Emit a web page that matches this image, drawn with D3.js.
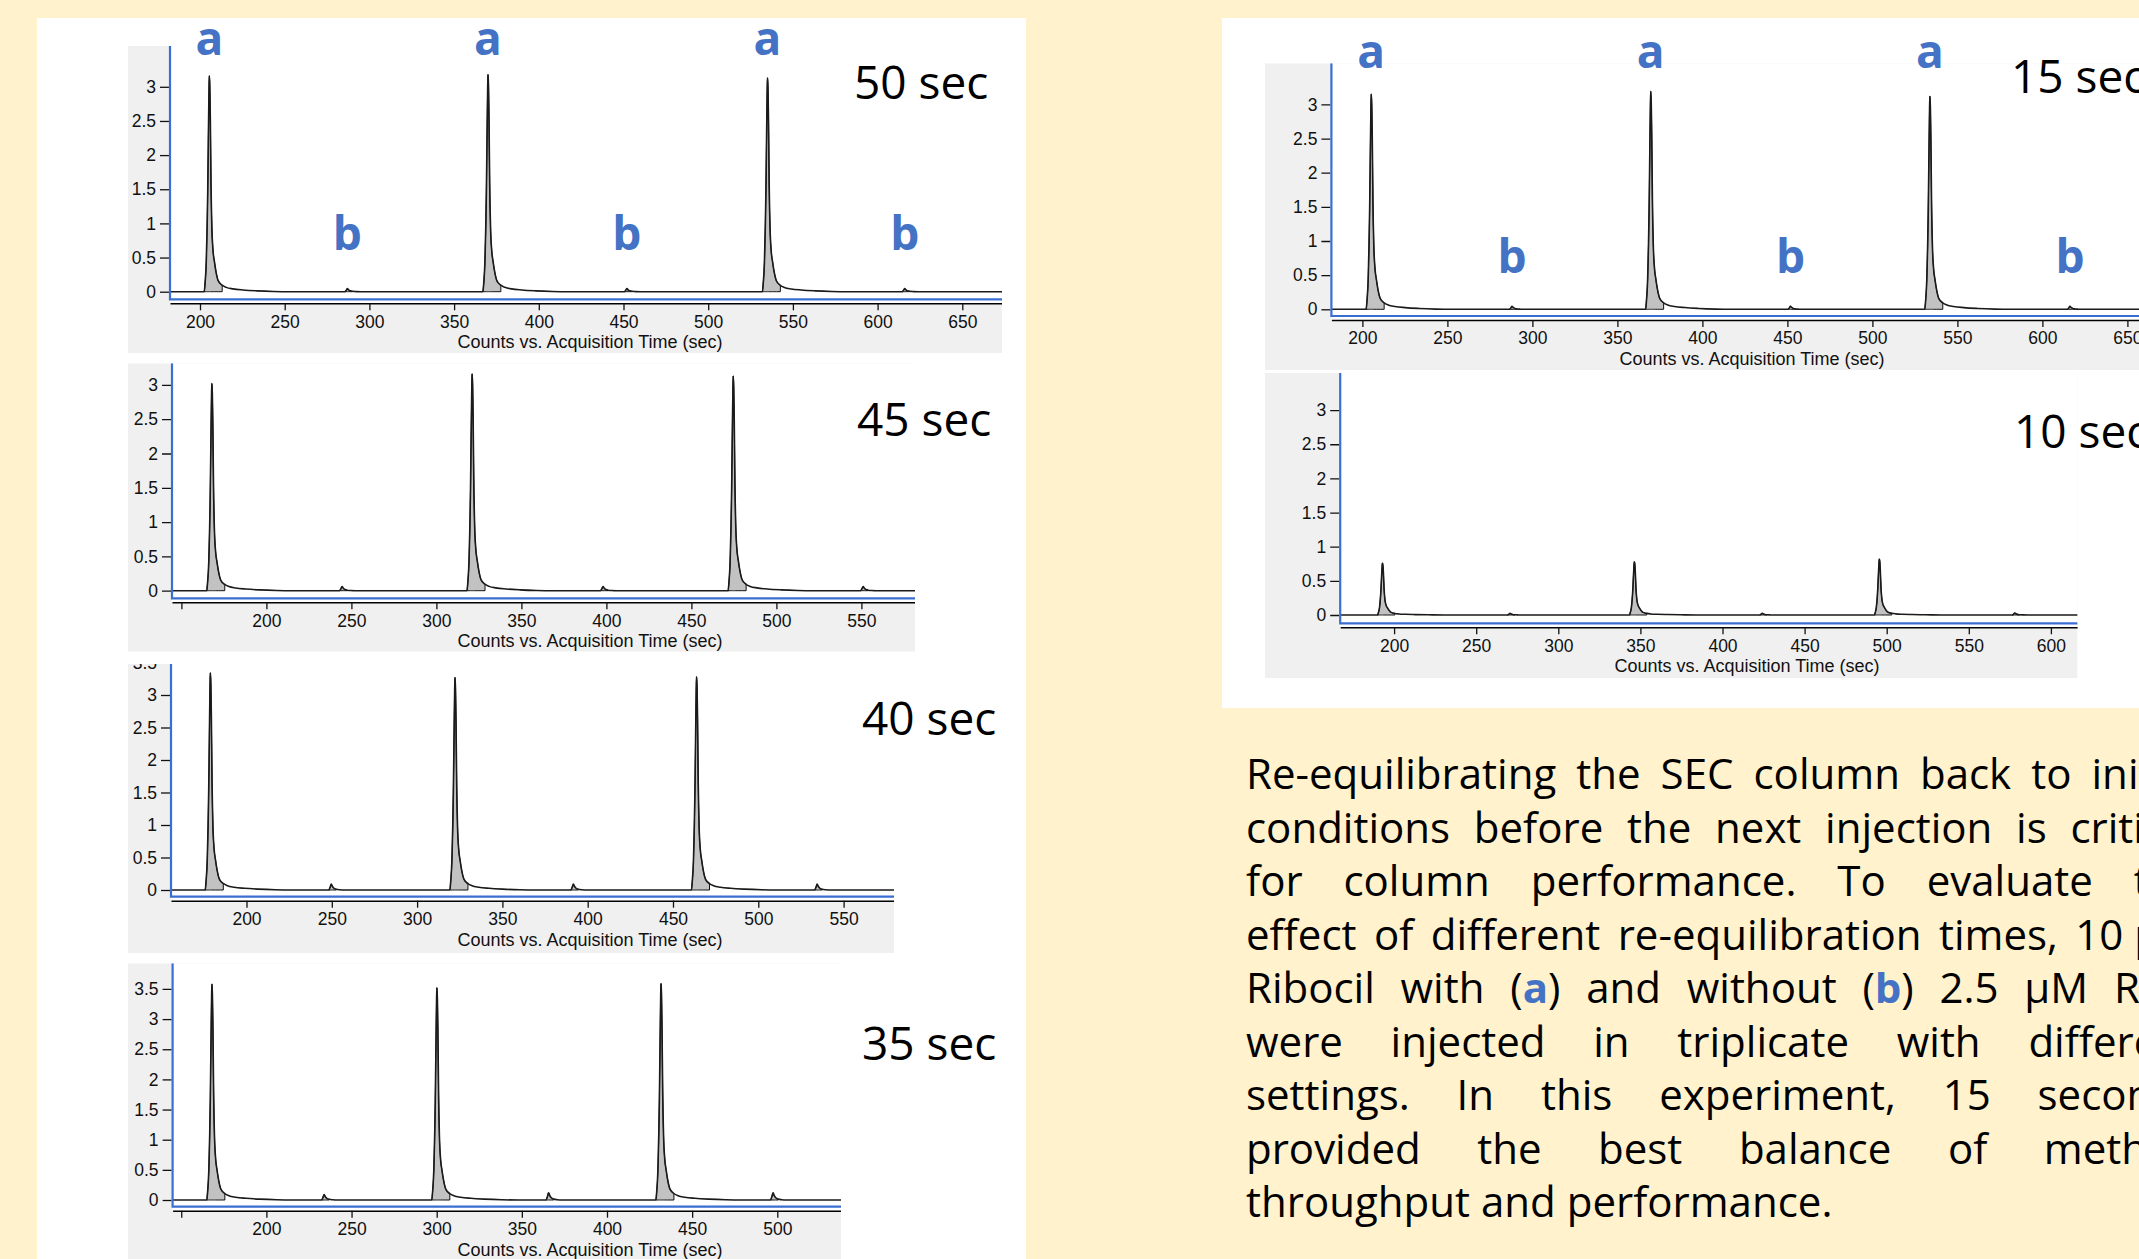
<!DOCTYPE html>
<html lang="en">
<head>
<meta charset="UTF-8">
<title>SEC re-equilibration time chromatograms</title>
<style>
  html, body { margin: 0; padding: 0; background: #fff2cc; overflow: hidden; }
  svg { display: block; }
  .tick text { font-family: "Liberation Sans", Arial, sans-serif; font-size: 17.5px; fill: #111; }
  .tick line { stroke: #111; stroke-width: 1.3; }
  .xtitle { font-family: "Liberation Sans", Arial, sans-serif; font-size: 18px; fill: #111; }
  .seclabel { font-family: "Open Sans", sans-serif; font-size: 46px; fill: #000; }
  .peaklabel { font-family: "Open Sans", sans-serif; font-size: 46px; font-weight: 700; fill: #4472c4; }
</style>
</head>
<body>
<svg id="figure" width="2139" height="1259"></svg>

<script src="https://cdn.jsdelivr.net/npm/d3@7"></script>
<script>
// ---- data ----
const panelNames = ["50 sec", "45 sec", "40 sec", "35 sec", "15 sec", "10 sec"];

// peak a (with RNA) apex times (sec) and heights (counts)
const peakATimes = [
  [205.5, 370.0, 535.0],
  [167.9, 321.0, 474.6],
  [178.8, 322.2, 463.8],
  [168.0, 300.1, 431.7],
  [205.2, 369.6, 533.8],
  [192.9, 346.3, 495.5]
];
const peakAHeights = [
  [3.16, 3.18, 3.13],
  [3.02, 3.16, 3.13],
  [3.34, 3.27, 3.28],
  [3.58, 3.52, 3.59],
  [3.15, 3.19, 3.12],
  [0.76, 0.78, 0.82]
];

// peak b (without RNA), small bumps
const peakBTimes = [
  [287.0, 452.0, 616.0],
  [244.5, 398.0, 551.0],
  [249.7, 391.6, 534.5],
  [233.9, 365.7, 497.5],
  [288.0, 451.8, 616.2],
  [270.6, 424.2, 578.0]
];
const peakBHeights = [
  [0.045, 0.045, 0.045],
  [0.06, 0.06, 0.06],
  [0.09, 0.09, 0.09],
  [0.09, 0.12, 0.12],
  [0.045, 0.045, 0.045],
  [0.025, 0.025, 0.03]
];

const peakProfile = [
  [-3.0, 0], [-2.5, 0.04], [-1.8, 0.14], [-1.3, 0.3], [-0.95, 0.46], [-0.5, 0.75],
  [-0.18, 0.94], [0, 1], [0.3, 0.95], [0.6, 0.8], [1.0, 0.5], [1.5, 0.3], [2.2, 0.19],
  [3.0, 0.14], [4.0, 0.09], [5.3, 0.05], [7.6, 0.03], [10, 0.02], [14, 0.013],
  [20, 0.008], [28, 0.004], [38, 0.001], [48, 0]
];
const bumpProfile = [
  [-1.5, 0], [-0.7, 0.45], [0, 1], [0.7, 0.6], [1.6, 0.3], [3.0, 0.12], [5.0, 0.04], [8.0, 0]
];

const yTickLabels = [
  [0, 0.5, 1, 1.5, 2, 2.5, 3],
  [0, 0.5, 1, 1.5, 2, 2.5, 3],
  [0, 0.5, 1, 1.5, 2, 2.5, 3, 3.5],
  [0, 0.5, 1, 1.5, 2, 2.5, 3, 3.5],
  [0, 0.5, 1, 1.5, 2, 2.5, 3],
  [0, 0.5, 1, 1.5, 2, 2.5, 3]
];
const xTickLabels = [
  [200, 250, 300, 350, 400, 450, 500, 550, 600, 650],
  [150, 200, 250, 300, 350, 400, 450, 500, 550],
  [200, 250, 300, 350, 400, 450, 500, 550],
  [150, 200, 250, 300, 350, 400, 450, 500],
  [200, 250, 300, 350, 400, 450, 500, 550, 600, 650],
  [200, 250, 300, 350, 400, 450, 500, 550, 600]
];

// "10\u00a0μM" is kept as one unit so the justified gap does not split it
const paragraphLines = [
  "Re-equilibrating the SEC column back to initial",
  "conditions before the next injection is critical",
  "for column performance.  To evaluate the",
  "effect of different re-equilibration times, 10\u00a0μM",
  "Ribocil with ([a]) and without ([b]) 2.5 μM RNA",
  "were injected in triplicate with different",
  "settings.  In this experiment, 15 seconds",
  "provided the best balance of method",
  "throughput and performance."
];

// ---- layout (pixels) ----
const layout = [
  { x0: 128, y0: 46, x1: 1002, y1: 353, axisX: 170, right: 1002, px200: 200, pps: 1.694,
    zeroY: 291.7, ppu: 68.3, blueY: 299.3, labelX: 854, labelY: 99.3, titleX: 590, aLabelY: 55, bLabelY: 250 },
  { x0: 128, y0: 363.3, x1: 915, y1: 651.7, axisX: 172, right: 915, px200: 266.4, pps: 1.70,
    zeroY: 590.7, ppu: 68.6, blueY: 598.3, labelX: 857, labelY: 436, titleX: 590 },
  { x0: 128, y0: 664, x1: 894, y1: 953, axisX: 171, right: 894, px200: 246.5, pps: 1.706,
    zeroY: 890, ppu: 65, blueY: 896.7, labelX: 862, labelY: 735, titleX: 590 },
  { x0: 128, y0: 963.3, x1: 841, y1: 1270, axisX: 172.6, right: 841, px200: 266.4, pps: 1.703,
    zeroY: 1200, ppu: 60.3, blueY: 1206.7, labelX: 862, labelY: 1060, titleX: 590 },
  { x0: 1265, y0: 63.3, x1: 2170, y1: 370, axisX: 1331.4, right: 2163, px200: 1362.4, pps: 1.70,
    zeroY: 309.3, ppu: 68.3, blueY: 316, labelX: 2011, labelY: 93.3, titleX: 1752, aLabelY: 68, bLabelY: 273 },
  { x0: 1265, y0: 373, x1: 2077.6, y1: 678.3, axisX: 1340.2, right: 2077.6, px200: 1394.1, pps: 1.642,
    zeroY: 615, ppu: 68.3, blueY: 623.3, labelX: 2014, labelY: 448.3, titleX: 1747 }
];

const svg = d3.select("#figure");

// backgrounds
svg.append("rect").attr("width", 2139).attr("height", 1259).attr("fill", "#fff2cc");
svg.append("rect").attr("x", 37).attr("y", 18).attr("width", 989).attr("height", 1260).attr("fill", "#fff");
svg.append("rect").attr("x", 1222).attr("y", 18).attr("width", 930).attr("height", 690).attr("fill", "#fff");

const defs = svg.append("defs");

layout.forEach((L, i) => {
  const g = svg.append("g");
  const clipId = "clip" + i;
  defs.append("clipPath").attr("id", clipId).append("rect")
    .attr("x", L.x0).attr("y", L.y0).attr("width", L.x1 - L.x0).attr("height", L.y1 - L.y0);
  const body = g.append("g").attr("clip-path", `url(#${clipId})`);

  const blackY = L.blueY + 4;

  body.append("rect").attr("x", L.x0).attr("y", L.y0)
    .attr("width", L.x1 - L.x0).attr("height", L.y1 - L.y0).attr("fill", "#f0f0f0");
  body.append("rect").attr("x", L.axisX).attr("y", L.y0)
    .attr("width", L.right - L.axisX).attr("height", blackY - L.y0).attr("fill", "#fff");

  const x = d3.scaleLinear()
    .domain([200 + (L.axisX - L.px200) / L.pps, 200 + (L.right - L.px200) / L.pps])
    .range([L.axisX, L.right]);
  const y = d3.scaleLinear()
    .domain([(L.zeroY - L.blueY) / L.ppu, (L.zeroY - L.y0) / L.ppu])
    .range([L.blueY, L.y0]);

  // peaks of this run
  const peaks = [];
  peakATimes[i].forEach((t, k) => peaks.push({ t, h: peakAHeights[i][k], shape: peakProfile, fillTo: 7.6 }));
  peakBTimes[i].forEach((t, k) => peaks.push({ t, h: peakBHeights[i][k], shape: bumpProfile, fillTo: 3.0 }));
  peaks.sort((a, b) => a.t - b.t);

  const [t0, t1] = x.domain();
  const trace = [[t0, 0]];
  peaks.forEach(p => p.shape.forEach(([dt, f]) => trace.push([p.t + dt, p.h * f])));
  trace.push([t1, 0]);

  const area = d3.area()
    .x(d => x(d[0])).y0(y(0)).y1(d => y(d[1]))
    .curve(d3.curveMonotoneX);
  const line = d3.line()
    .x(d => x(d[0])).y(d => y(d[1]))
    .curve(d3.curveMonotoneX);

  // integrated areas
  body.selectAll("path.peakfill")
    .data(peaks)
    .join("path")
    .attr("class", "peakfill")
    .attr("d", p => area(p.shape.filter(s => s[0] <= p.fillTo).map(([dt, f]) => [p.t + dt, p.h * f])))
    .attr("fill", "#c2c2c2")
    .attr("stroke", "#111")
    .attr("stroke-width", 1);

  body.append("path")
    .attr("d", line(trace))
    .attr("fill", "none")
    .attr("stroke", "#1a1a1a")
    .attr("stroke-width", 1.6)
    .attr("stroke-linejoin", "round");

  // y axis
  const yAxis = d3.axisLeft(y)
    .tickValues(yTickLabels[i])
    .tickSize(9)
    .tickPadding(4)
    .tickFormat(d => String(d));
  const ya = body.append("g").attr("transform", `translate(${L.axisX - 1},0)`).call(yAxis);
  ya.select(".domain").remove();

  // x axis
  const xAxis = d3.axisBottom(x)
    .tickValues(xTickLabels[i])
    .tickSize(7)
    .tickSizeOuter(0)
    .tickPadding(5)
    .tickFormat(d => (x(d) - L.axisX < 25 ? "" : d));
  const xa = body.append("g").attr("transform", `translate(0,${blackY})`).call(xAxis);
  xa.select(".domain").attr("stroke", "#000").attr("stroke-width", 1.6);

  // blue frame of the plot
  body.append("path")
    .attr("d", `M${x.range()[0]},${y.range()[1]}V${y.range()[0]}H${x.range()[1]}`)
    .attr("fill", "none")
    .attr("stroke", "#3a6fd2")
    .attr("stroke-width", 2.2);

  body.append("text")
    .attr("class", "xtitle")
    .attr("x", L.titleX)
    .attr("y", blackY + 45)
    .attr("text-anchor", "middle")
    .text("Counts vs. Acquisition Time (sec)");

  g.append("text")
    .attr("class", "seclabel")
    .attr("x", L.labelX)
    .attr("y", L.labelY)
    .text(panelNames[i]);

  if (L.aLabelY) {
    g.selectAll("text.alab")
      .data(peakATimes[i])
      .join("text")
      .attr("class", "peaklabel alab")
      .attr("x", d => x(d))
      .attr("y", L.aLabelY)
      .attr("text-anchor", "middle")
      .text("a");
    g.selectAll("text.blab")
      .data(peakBTimes[i])
      .join("text")
      .attr("class", "peaklabel blab")
      .attr("x", d => x(d))
      .attr("y", L.bLabelY)
      .attr("text-anchor", "middle")
      .text("b");
  }
});

// ---- justified paragraph ----
const paraLeft = 1246, paraRight = 2198, paraTop = 789, paraLead = 53.5;
const para = svg.append("g")
  .attr("font-family", "'Open Sans', sans-serif")
  .attr("font-size", 42)
  .attr("fill", "#000");

paragraphLines.forEach((str, li) => {
  const words = str.split(/ +/);
  const nodes = words.map(w => {
    const t = para.append("text").attr("y", paraTop + li * paraLead).attr("xml:space", "preserve");
    w.split(/(\[[^\]]+\])/).filter(s => s).forEach(seg => {
      if (seg.startsWith("[")) {
        t.append("tspan").attr("fill", "#4472c4").attr("font-weight", 700).text(seg.slice(1, -1));
      } else {
        t.append("tspan").text(seg);
      }
    });
    return t;
  });
  const widths = nodes.map(t => t.node().getComputedTextLength());
  const last = li === paragraphLines.length - 1;
  const gap = last ? 11 : (paraRight - paraLeft - d3.sum(widths)) / (words.length - 1);
  let cx = paraLeft;
  nodes.forEach((t, k) => {
    t.attr("x", cx);
    cx += widths[k] + gap;
  });
});
</script>
</body>
</html>
